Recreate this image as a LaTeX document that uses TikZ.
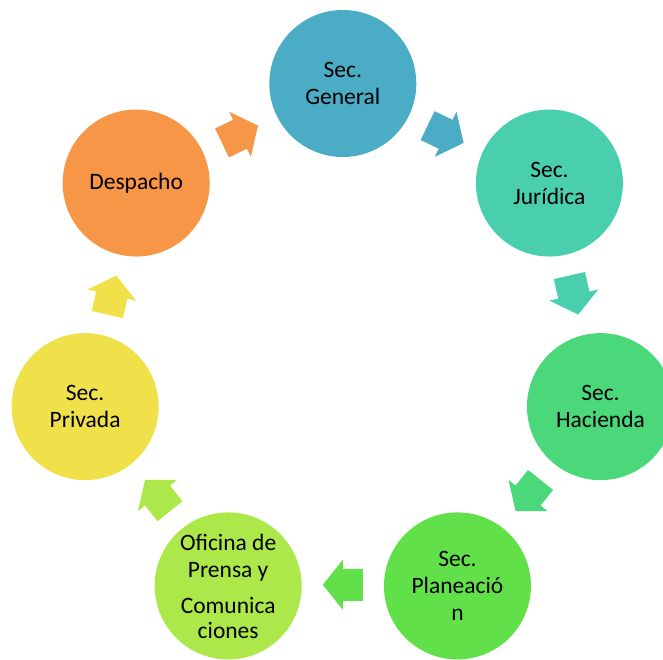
\documentclass[tikz,border=0pt]{standalone}
\usepackage{fontspec}
\setmainfont{Carlito}
\usetikzlibrary{calc}
\definecolor{cGen}{RGB}{75,172,198}
\definecolor{cJur}{RGB}{74,207,174}
\definecolor{cHac}{RGB}{74,216,122}
\definecolor{cPla}{RGB}{98,224,74}
\definecolor{cOfi}{RGB}{173,232,74}
\definecolor{cPri}{RGB}{240,224,74}
\definecolor{cDes}{RGB}{247,150,70}
\begin{document}
\begin{tikzpicture}[x=1pt,y=1pt,
  circ/.style={circle, minimum size=147pt, inner sep=0pt, text=black, align=center,
    font=\fontsize{23.5}{27}\selectfont}]
\useasboundingbox (0,-659) rectangle (663,0);
\coordinate (C) at (342.8,-347.8);
\node[circ, fill=cGen] (gen) at ($(C)+(90:264.3)$) {Sec.\\General};
\node[circ, fill=cJur] (jur) at ($(C)+(38.57:264.3)$) {Sec.\\Jurídica};
\node[circ, fill=cHac] (hac) at ($(C)+(-12.86:264.3)$) {Sec.\\Hacienda};
\node[circ, fill=cPla] (pla) at ($(C)+(-64.29:264.3)$) {Sec.\\Planeació\\n};
\node[circ, fill=cOfi] (ofi) at ($(C)+(-115.71:264.3)$) {Oficina de\\Prensa y\\[9pt]Comunica\\[-2pt]ciones};
\node[circ, fill=cPri] (pri) at ($(C)+(-167.14:264.3)$) {Sec.\\Privada};
\node[circ, fill=cDes] (des) at ($(C)+(141.43:264.3)$) {Despacho};
\foreach \a/\c in {64.29/cGen, 12.86/cJur, -38.57/cHac, -90/cPla, -141.43/cOfi, -192.86/cPri, 115.71/cDes}
  \fill[\c, shift={($(C)+(\a:237)$)}, rotate=\a-90]
    (-20,-16) -- (0,-16) -- (0,-25) -- (20,0) -- (0,25) -- (0,16) -- (-20,16) -- cycle;
\end{tikzpicture}
\end{document}
